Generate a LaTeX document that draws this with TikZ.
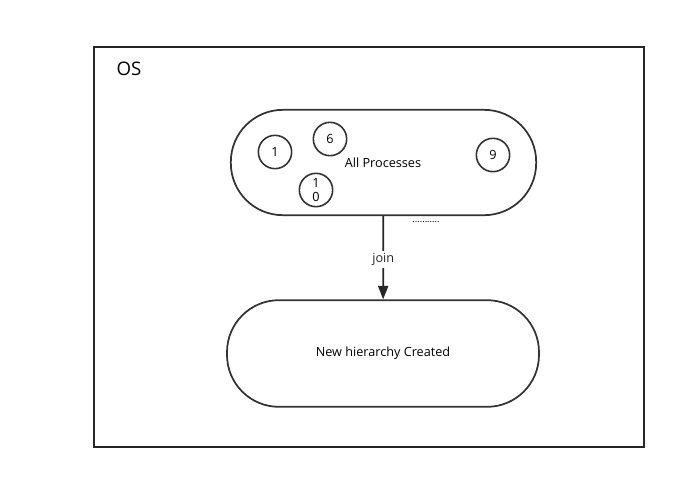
\documentclass[tikz,border=0pt]{standalone}
\usepackage{fontspec}
\setmainfont{Open Sans}
\usetikzlibrary{arrows.meta}

\tikzset{
  pill/.style={draw=black!80, line width=1.3pt, rounded corners=39pt, font=\fontsize{9.5}{11}\selectfont},
  proc/.style={draw=black!80, line width=1.2pt, circle, minimum size=25pt, inner sep=0pt, align=center, font=\fontsize{9.5}{11}\selectfont}
}

\begin{document}
\begin{tikzpicture}[x=0.75pt, y=-0.75pt]
    \useasboundingbox (0, 0) rectangle (676, 480);
    \draw[black!85, line width=1.2pt] (94, 47) rectangle (644, 447);
    \node (os) at (129, 69) {\fontsize{14}{16}\selectfont OS};

    \node[pill, minimum width=229pt, minimum height=79pt] (all) at (383.5, 162.5) {};
    \node[font=\fontsize{9.5}{11}\selectfont] (alltext) at (383, 163) {All Processes};
    \node[proc] (p1) at (275, 152) {1};
    \node[proc] (p6) at (330, 139) {6};
    \node[proc] (p10) at (316, 190) {1\\0};
    \node[proc] (p9) at (493, 155) {9};
    \node[font=\fontsize{7}{7}\selectfont] (dots) at (426, 222) {...........};

    \node[pill, minimum width=234pt, minimum height=80pt] (new) at (383, 353.5) {New hierarchy Created};

    \draw[black!85, line width=1.3pt, -{Triangle[length=10pt, width=7.5pt]}] (all) -- (new)
        node [pos=0.52, fill=white, inner sep=2pt, font=\fontsize{9.5}{11}\selectfont] {join};
\end{tikzpicture}
\end{document}
